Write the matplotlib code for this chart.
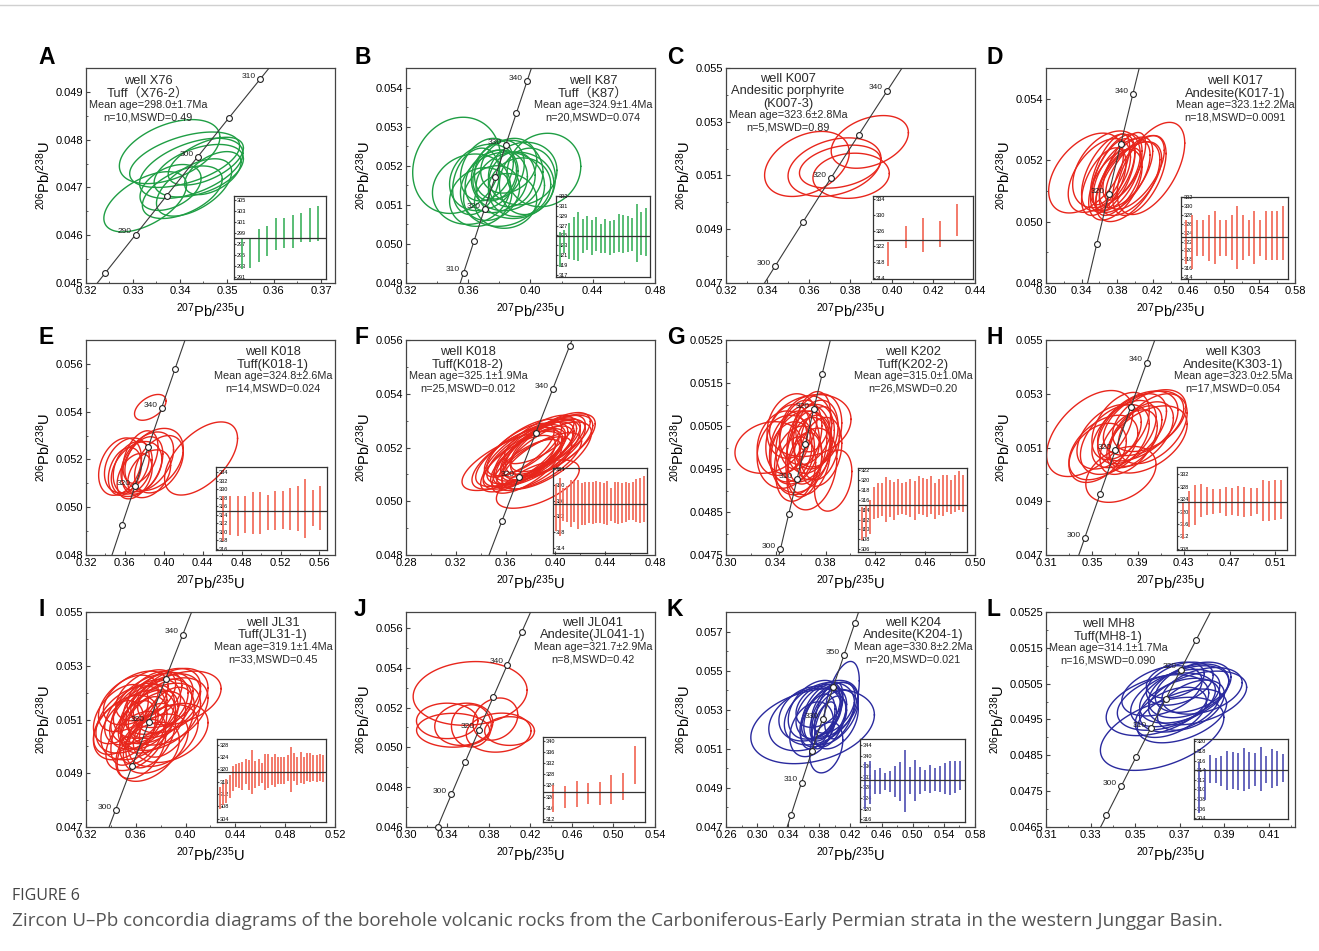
import numpy as np
import matplotlib
matplotlib.use('Agg')
import matplotlib.pyplot as plt
from matplotlib.ticker import AutoMinorLocator
from matplotlib.lines import Line2D

plt.rcParams['font.family'] = ['Liberation Sans', 'Noto Sans CJK SC']
plt.rcParams['mathtext.default'] = 'regular'

# decay constants (per year) for the concordia curve
LAMBDA_238 = 1.55125e-10
LAMBDA_235 = 9.8485e-10

letters = ['A', 'B', 'C', 'D', 'E', 'F', 'G', 'H', 'I', 'J', 'K', 'L']

texts = [
    ['well X76', 'Tuff（X76-2）', 'Mean age=298.0±1.7Ma', 'n=10,MSWD=0.49'],
    ['well K87', 'Tuff（K87）', 'Mean age=324.9±1.4Ma', 'n=20,MSWD=0.074'],
    ['well K007', 'Andesitic porphyrite', '(K007-3)', 'Mean age=323.6±2.8Ma', 'n=5,MSWD=0.89'],
    ['well K017', 'Andesite(K017-1)', 'Mean age=323.1±2.2Ma', 'n=18,MSWD=0.0091'],
    ['well K018', 'Tuff(K018-1)', 'Mean age=324.8±2.6Ma', 'n=14,MSWD=0.024'],
    ['well K018', 'Tuff(K018-2)', 'Mean age=325.1±1.9Ma', 'n=25,MSWD=0.012'],
    ['well K202', 'Tuff(K202-2)', 'Mean age=315.0±1.0Ma', 'n=26,MSWD=0.20'],
    ['well K303', 'Andesite(K303-1)', 'Mean age=323.0±2.5Ma', 'n=17,MSWD=0.054'],
    ['well JL31', 'Tuff(JL31-1)', 'Mean age=319.1±1.4Ma', 'n=33,MSWD=0.45'],
    ['well JL041', 'Andesite(JL041-1)', 'Mean age=321.7±2.9Ma', 'n=8,MSWD=0.42'],
    ['well K204', 'Andesite(K204-1)', 'Mean age=330.8±2.2Ma', 'n=20,MSWD=0.021'],
    ['well MH8', 'Tuff(MH8-1)', 'Mean age=314.1±1.7Ma', 'n=16,MSWD=0.090'],
]

# axis ranges and tick spacing (207Pb/235U, 206Pb/238U)
xlims = [(0.32, 0.373), (0.32, 0.48), (0.32, 0.44), (0.30, 0.58), (0.32, 0.576), (0.28, 0.48),
         (0.30, 0.50), (0.31, 0.527), (0.32, 0.52), (0.30, 0.54), (0.26, 0.58), (0.31, 0.4217)]
xsteps = [0.01, 0.04, 0.02, 0.04, 0.04, 0.04, 0.04, 0.04, 0.04, 0.04, 0.04, 0.02]
xlast = [0.37, 0.48, 0.44, 0.58, 0.56, 0.48, 0.50, 0.51, 0.52, 0.54, 0.58, 0.41]
ylims = [(0.045, 0.0495), (0.049, 0.0545), (0.047, 0.055), (0.048, 0.055), (0.048, 0.057), (0.048, 0.056),
         (0.0475, 0.0525), (0.047, 0.055), (0.047, 0.055), (0.046, 0.0568), (0.047, 0.058), (0.0465, 0.0525)]
ysteps = [0.001, 0.001, 0.002, 0.002, 0.002, 0.002, 0.001, 0.002, 0.002, 0.002, 0.002, 0.001]
ylast = [0.049, 0.054, 0.055, 0.054, 0.056, 0.056, 0.0525, 0.055, 0.055, 0.056, 0.057, 0.0525]

# concordia age marks (Ma) and which of them are labelled
age_marks = [[285, 290, 295, 300, 305, 310], [310, 315, 320, 325, 330, 335, 340],
             [300, 310, 320, 330, 340], [310, 320, 330, 340], [310, 320, 330, 340, 350],
             [310, 320, 330, 340, 350], [300, 305, 310, 315, 320, 325], [300, 310, 320, 330, 340],
             [300, 310, 320, 330, 340], [290, 300, 310, 320, 330, 340, 350],
             [300, 310, 320, 330, 340, 350, 360], [295, 300, 305, 310, 315, 320, 325]]
age_labels = [[290, 300, 310], [310, 320, 330, 340], [300, 320, 340], [320, 340], [320, 340],
              [320, 340], [300, 310, 320], [300, 320, 340], [300, 320, 340], [300, 320, 340],
              [310, 330, 350], [300, 310, 320]]

# error ellipses: (x centre, y centre, x half-width, y half-width, correlation)
ell_A = [(0.3326, 0.04670, 0.0088, 0.00063, 0.55), (0.3378, 0.04775, 0.0107, 0.00067, 0.45),
         (0.3410, 0.04758, 0.0117, 0.00058, 0.50), (0.3424, 0.04740, 0.0110, 0.00063, 0.50),
         (0.3440, 0.04735, 0.0095, 0.00055, 0.45), (0.3455, 0.04755, 0.0080, 0.00050, 0.55),
         (0.3405, 0.04690, 0.0085, 0.00055, 0.50), (0.3380, 0.04700, 0.0065, 0.00048, 0.40),
         (0.3430, 0.04700, 0.0080, 0.00060, 0.55), (0.3470, 0.04730, 0.0060, 0.00045, 0.50)]
ell_B = [(0.3525, 0.05201, 0.0282, 0.00123, 0.15), (0.4086, 0.05189, 0.0237, 0.00094, 0.10),
         (0.3620, 0.05140, 0.0250, 0.00090, 0.10), (0.3700, 0.05170, 0.0220, 0.00085, 0.20),
         (0.3780, 0.05160, 0.0200, 0.00080, 0.15), (0.3850, 0.05175, 0.0230, 0.00090, 0.10),
         (0.3900, 0.05150, 0.0250, 0.00085, 0.05), (0.3800, 0.05190, 0.0160, 0.00075, 0.20),
         (0.3750, 0.05130, 0.0180, 0.00070, 0.20), (0.3950, 0.05180, 0.0220, 0.00080, 0.10),
         (0.3680, 0.05120, 0.0200, 0.00075, 0.15), (0.3820, 0.05140, 0.0270, 0.00095, 0.10),
         (0.3860, 0.05200, 0.0180, 0.00070, 0.20), (0.3720, 0.05190, 0.0170, 0.00080, 0.25),
         (0.3930, 0.05145, 0.0200, 0.00075, 0.10), (0.3770, 0.05175, 0.0140, 0.00065, 0.20),
         (0.3880, 0.05165, 0.0150, 0.00070, 0.15), (0.3650, 0.05160, 0.0150, 0.00085, 0.25),
         (0.3980, 0.05160, 0.0180, 0.00085, 0.10), (0.3840, 0.05110, 0.0200, 0.00070, 0.05)]
ell_C = [(0.3590, 0.05143, 0.0204, 0.00121, 0.35), (0.3723, 0.05131, 0.0224, 0.00109, 0.30),
         (0.3750, 0.05133, 0.0196, 0.00080, 0.30), (0.3893, 0.05225, 0.0186, 0.00098, 0.35),
         (0.3803, 0.05099, 0.0184, 0.00084, 0.10)]
ell_D = [(0.3450, 0.05158, 0.0420, 0.00130, 0.45), (0.4180, 0.05173, 0.0380, 0.00150, 0.55),
         (0.3600, 0.05150, 0.0350, 0.00120, 0.50), (0.3700, 0.05160, 0.0300, 0.00125, 0.55),
         (0.3750, 0.05150, 0.0250, 0.00120, 0.60), (0.3800, 0.05160, 0.0280, 0.00125, 0.55),
         (0.3850, 0.05150, 0.0320, 0.00120, 0.55), (0.3900, 0.05160, 0.0300, 0.00115, 0.60),
         (0.3950, 0.05140, 0.0350, 0.00120, 0.55), (0.4000, 0.05160, 0.0330, 0.00120, 0.60),
         (0.3650, 0.05130, 0.0250, 0.00110, 0.55), (0.3720, 0.05170, 0.0220, 0.00115, 0.65),
         (0.3820, 0.05130, 0.0260, 0.00110, 0.60), (0.3880, 0.05180, 0.0240, 0.00110, 0.65),
         (0.3780, 0.05120, 0.0300, 0.00115, 0.50), (0.3920, 0.05130, 0.0360, 0.00130, 0.55),
         (0.3680, 0.05170, 0.0380, 0.00125, 0.40), (0.4050, 0.05150, 0.0300, 0.00130, 0.55)]
ell_E = [(0.3861, 0.05418, 0.0162, 0.00054, 0.50), (0.4383, 0.05204, 0.0375, 0.00153, 0.55),
         (0.3550, 0.05170, 0.0220, 0.00120, 0.30), (0.3620, 0.05175, 0.0230, 0.00115, 0.30),
         (0.3680, 0.05165, 0.0200, 0.00110, 0.30), (0.3720, 0.05160, 0.0260, 0.00115, 0.35),
         (0.3780, 0.05175, 0.0210, 0.00120, 0.40), (0.3830, 0.05190, 0.0270, 0.00125, 0.40),
         (0.3900, 0.05200, 0.0300, 0.00130, 0.35), (0.3950, 0.05180, 0.0250, 0.00120, 0.40),
         (0.3700, 0.05130, 0.0180, 0.00095, 0.35), (0.3600, 0.05150, 0.0170, 0.00100, 0.30),
         (0.3850, 0.05140, 0.0220, 0.00100, 0.35), (0.3760, 0.05210, 0.0180, 0.00110, 0.40)]
ell_F = [(0.3859, 0.05064, 0.0333, 0.00090, 0.60), (0.3650, 0.05150, 0.0400, 0.00110, 0.70),
         (0.3680, 0.05160, 0.0350, 0.00115, 0.70), (0.3700, 0.05140, 0.0300, 0.00105, 0.70),
         (0.3720, 0.05170, 0.0360, 0.00115, 0.70), (0.3740, 0.05155, 0.0320, 0.00110, 0.70),
         (0.3760, 0.05175, 0.0340, 0.00120, 0.70), (0.3780, 0.05160, 0.0300, 0.00110, 0.72),
         (0.3800, 0.05180, 0.0350, 0.00115, 0.70), (0.3820, 0.05170, 0.0320, 0.00110, 0.72),
         (0.3840, 0.05190, 0.0330, 0.00115, 0.70), (0.3860, 0.05180, 0.0340, 0.00120, 0.70),
         (0.3880, 0.05200, 0.0320, 0.00110, 0.72), (0.3900, 0.05190, 0.0340, 0.00115, 0.70),
         (0.3920, 0.05210, 0.0320, 0.00110, 0.70), (0.3940, 0.05200, 0.0360, 0.00120, 0.68),
         (0.3960, 0.05220, 0.0320, 0.00110, 0.70), (0.3980, 0.05210, 0.0340, 0.00115, 0.68),
         (0.3770, 0.05130, 0.0280, 0.00100, 0.70), (0.3830, 0.05140, 0.0300, 0.00100, 0.70),
         (0.3890, 0.05150, 0.0320, 0.00105, 0.70), (0.3710, 0.05190, 0.0280, 0.00100, 0.70),
         (0.3930, 0.05170, 0.0360, 0.00125, 0.68), (0.3750, 0.05200, 0.0300, 0.00105, 0.70),
         (0.3870, 0.05230, 0.0280, 0.00090, 0.70)]
ell_G = [(0.3339, 0.05000, 0.0267, 0.00060, 0.20), (0.3861, 0.04923, 0.0150, 0.00071, 0.30),
         (0.3677, 0.05051, 0.0327, 0.00072, 0.20), (0.3450, 0.05010, 0.0200, 0.00075, 0.20),
         (0.3500, 0.05020, 0.0180, 0.00080, 0.25), (0.3550, 0.05000, 0.0200, 0.00085, 0.20),
         (0.3600, 0.05030, 0.0170, 0.00080, 0.25), (0.3620, 0.05010, 0.0220, 0.00090, 0.20),
         (0.3650, 0.05000, 0.0160, 0.00085, 0.25), (0.3680, 0.05020, 0.0190, 0.00080, 0.25),
         (0.3700, 0.05000, 0.0150, 0.00075, 0.20), (0.3720, 0.05030, 0.0180, 0.00080, 0.25),
         (0.3750, 0.05010, 0.0160, 0.00085, 0.20), (0.3580, 0.04970, 0.0190, 0.00080, 0.20),
         (0.3630, 0.04960, 0.0140, 0.00075, 0.25), (0.3530, 0.05050, 0.0200, 0.00075, 0.20),
         (0.3700, 0.05060, 0.0140, 0.00070, 0.25), (0.3480, 0.04990, 0.0230, 0.00085, 0.15),
         (0.3660, 0.04980, 0.0180, 0.00090, 0.20), (0.3760, 0.04990, 0.0170, 0.00080, 0.25),
         (0.3600, 0.04990, 0.0240, 0.00095, 0.20), (0.3560, 0.04950, 0.0160, 0.00075, 0.20),
         (0.3690, 0.04950, 0.0200, 0.00095, 0.25), (0.3730, 0.05040, 0.0200, 0.00085, 0.20),
         (0.3520, 0.04990, 0.0170, 0.00070, 0.20), (0.3640, 0.05040, 0.0210, 0.00080, 0.20)]
ell_H = [(0.3481, 0.05152, 0.0376, 0.00160, 0.50), (0.3753, 0.05000, 0.0306, 0.00104, 0.35),
         (0.3600, 0.05100, 0.0300, 0.00120, 0.45), (0.3700, 0.05130, 0.0300, 0.00130, 0.45),
         (0.3780, 0.05150, 0.0280, 0.00125, 0.50), (0.3850, 0.05170, 0.0300, 0.00130, 0.50),
         (0.3900, 0.05180, 0.0350, 0.00130, 0.45), (0.3950, 0.05190, 0.0350, 0.00120, 0.45),
         (0.4000, 0.05200, 0.0320, 0.00115, 0.45), (0.3820, 0.05120, 0.0250, 0.00120, 0.50),
         (0.3880, 0.05140, 0.0230, 0.00115, 0.55), (0.3930, 0.05150, 0.0280, 0.00120, 0.50),
         (0.3750, 0.05180, 0.0250, 0.00125, 0.45), (0.3650, 0.05140, 0.0280, 0.00120, 0.45),
         (0.4030, 0.05170, 0.0300, 0.00130, 0.45), (0.3550, 0.05080, 0.0250, 0.00110, 0.40),
         (0.3980, 0.05130, 0.0350, 0.00125, 0.45)]
ell_I = [(0.3520, 0.05070, 0.0260, 0.00120, 0.40), (0.3560, 0.05100, 0.0280, 0.00125, 0.40),
         (0.3600, 0.05120, 0.0250, 0.00115, 0.45), (0.3620, 0.05080, 0.0300, 0.00130, 0.40),
         (0.3650, 0.05110, 0.0260, 0.00120, 0.45), (0.3680, 0.05130, 0.0280, 0.00120, 0.45),
         (0.3700, 0.05100, 0.0240, 0.00110, 0.45), (0.3720, 0.05150, 0.0300, 0.00120, 0.40),
         (0.3740, 0.05090, 0.0260, 0.00115, 0.45), (0.3760, 0.05130, 0.0290, 0.00120, 0.45),
         (0.3780, 0.05160, 0.0280, 0.00115, 0.40), (0.3800, 0.05110, 0.0320, 0.00125, 0.40),
         (0.3820, 0.05150, 0.0300, 0.00120, 0.45), (0.3840, 0.05180, 0.0280, 0.00110, 0.40),
         (0.3860, 0.05130, 0.0320, 0.00125, 0.40), (0.3880, 0.05170, 0.0300, 0.00120, 0.40),
         (0.3950, 0.05180, 0.0335, 0.00100, 0.35), (0.3600, 0.05020, 0.0240, 0.00110, 0.45),
         (0.3640, 0.04990, 0.0200, 0.00110, 0.45), (0.3700, 0.04980, 0.0250, 0.00110, 0.40),
         (0.3760, 0.05010, 0.0260, 0.00110, 0.40), (0.3820, 0.05040, 0.0280, 0.00115, 0.40),
         (0.3880, 0.05050, 0.0300, 0.00110, 0.35), (0.3480, 0.05120, 0.0220, 0.00110, 0.45),
         (0.3540, 0.05160, 0.0240, 0.00105, 0.45), (0.3600, 0.05180, 0.0260, 0.00100, 0.45),
         (0.3680, 0.05190, 0.0240, 0.00095, 0.45), (0.3750, 0.05190, 0.0220, 0.00090, 0.40),
         (0.3580, 0.05050, 0.0180, 0.00120, 0.50), (0.3660, 0.05060, 0.0190, 0.00125, 0.50),
         (0.3720, 0.05040, 0.0200, 0.00120, 0.45), (0.3850, 0.05090, 0.0220, 0.00130, 0.45),
         (0.3460, 0.05070, 0.0200, 0.00100, 0.40)]
ell_J = [(0.3618, 0.05271, 0.0549, 0.00160, 0.10), (0.3397, 0.05133, 0.0296, 0.00089, 0.00),
         (0.3454, 0.05086, 0.0352, 0.00085, 0.00), (0.3557, 0.05116, 0.0280, 0.00106, 0.10),
         (0.3630, 0.05108, 0.0192, 0.00106, 0.00), (0.3893, 0.05074, 0.0312, 0.00098, 0.10),
         (0.3861, 0.05142, 0.0216, 0.00106, 0.20), (0.3998, 0.05082, 0.0240, 0.00072, 0.00)]
ell_K = [(0.3713, 0.05216, 0.0794, 0.00192, 0.30), (0.4089, 0.05349, 0.0224, 0.00198, 0.50),
         (0.3888, 0.05107, 0.0213, 0.00130, 0.30), (0.3650, 0.05250, 0.0500, 0.00160, 0.30),
         (0.3800, 0.05280, 0.0450, 0.00160, 0.35), (0.3900, 0.05300, 0.0400, 0.00150, 0.40),
         (0.3950, 0.05280, 0.0350, 0.00160, 0.40), (0.3850, 0.05260, 0.0300, 0.00150, 0.45),
         (0.3820, 0.05290, 0.0250, 0.00140, 0.50), (0.3880, 0.05270, 0.0200, 0.00130, 0.55),
         (0.3920, 0.05300, 0.0180, 0.00140, 0.55), (0.3780, 0.05240, 0.0220, 0.00140, 0.45),
         (0.3980, 0.05310, 0.0280, 0.00130, 0.45), (0.3750, 0.05300, 0.0350, 0.00150, 0.35),
         (0.3700, 0.05200, 0.0280, 0.00140, 0.30), (0.4000, 0.05250, 0.0300, 0.00150, 0.35),
         (0.3860, 0.05220, 0.0160, 0.00120, 0.55), (0.3940, 0.05240, 0.0200, 0.00130, 0.50),
         (0.3680, 0.05280, 0.0400, 0.00140, 0.25), (0.3800, 0.05320, 0.0300, 0.00110, 0.35)]
ell_L = [(0.3621, 0.04910, 0.0277, 0.00102, 0.45), (0.3600, 0.04990, 0.0230, 0.00085, 0.40),
         (0.3640, 0.05000, 0.0220, 0.00080, 0.40), (0.3680, 0.05010, 0.0200, 0.00080, 0.45),
         (0.3700, 0.04990, 0.0180, 0.00075, 0.40), (0.3720, 0.05020, 0.0200, 0.00080, 0.45),
         (0.3740, 0.05030, 0.0180, 0.00075, 0.40), (0.3760, 0.05040, 0.0170, 0.00070, 0.40),
         (0.3660, 0.04970, 0.0160, 0.00070, 0.45), (0.3700, 0.05050, 0.0150, 0.00060, 0.40),
         (0.3780, 0.05010, 0.0220, 0.00075, 0.40), (0.3800, 0.05030, 0.0180, 0.00065, 0.35),
         (0.3620, 0.05030, 0.0180, 0.00070, 0.40), (0.3710, 0.04960, 0.0200, 0.00075, 0.45),
         (0.3750, 0.04990, 0.0150, 0.00070, 0.45), (0.3680, 0.05060, 0.0130, 0.00050, 0.35)]
ellipses = [ell_A, ell_B, ell_C, ell_D, ell_E, ell_F, ell_G, ell_H, ell_I, ell_J, ell_K, ell_L]

# weighted-mean insets: age error bars (low, high) in Ma
wm_A = [(292.4, 297.9), (292.6, 297.9), (293.7, 299.7), (294.7, 300.3), (295.8, 301.7),
        (296.3, 301.6), (296.2, 302.3), (297.4, 302.6), (297.3, 303.5), (297.5, 303.9)]
wm_B = [(318.6, 325.8), (321.5, 326.1), (320.3, 327.5), (320.1, 328.7), (319.8, 329.8),
        (321.5, 328.3), (322.0, 329.0), (321.1, 328.2), (321.8, 328.7), (321.5, 327.3),
        (321.5, 328.4), (321.1, 328.0), (321.5, 328.2), (321.7, 329.4), (321.5, 329.2),
        (321.6, 329.0), (321.8, 328.6), (319.6, 331.4), (321.1, 329.8), (320.8, 330.5)]
wm_C = [(317.1, 323.0), (321.5, 327.2), (320.5, 329.1), (321.8, 328.3), (324.7, 332.8)]
wm_D = [(317.0, 326.9), (315.8, 327.9), (318.8, 326.9), (318.8, 326.9), (317.7, 327.9),
        (317.0, 328.9), (318.8, 326.9), (318.8, 326.9), (317.8, 327.9), (315.8, 329.9),
        (317.8, 327.9), (318.8, 326.9), (317.0, 328.9), (318.8, 326.9), (317.8, 328.9),
        (317.8, 328.9), (317.8, 328.9), (317.8, 329.9)]
wm_E = [(317.9, 328.5), (319.2, 328.3), (319.0, 328.5), (319.8, 328.5), (319.4, 329.3),
        (319.5, 329.3), (320.3, 328.7), (320.3, 329.5), (320.7, 329.5), (320.3, 330.3),
        (320.1, 330.8), (318.5, 332.4), (321.3, 329.9), (320.3, 330.8)]
wm_F = [(318.4, 330.2), (316.9, 331.7), (320.7, 329.1), (320.5, 329.7), (319.3, 331.2),
        (320.5, 331.0), (318.9, 331.2), (319.7, 330.5), (319.9, 330.8), (320.4, 330.6),
        (320.1, 330.8), (320.4, 330.9), (320.4, 330.8), (320.1, 330.5), (319.9, 331.0),
        (320.7, 329.1), (320.4, 330.8), (320.1, 330.8), (320.4, 330.4), (320.5, 330.6),
        (321.0, 330.4), (321.0, 330.8), (320.5, 331.4), (320.4, 331.7), (320.5, 332.2)]
wm_G = [(307.8, 314.6), (308.4, 314.9), (309.1, 316.0), (312.2, 318.7), (312.3, 319.4),
        (312.7, 319.4), (311.5, 320.6), (312.5, 320.1), (311.9, 319.7), (312.9, 320.2),
        (313.2, 319.5), (312.9, 319.7), (312.5, 320.2), (311.9, 319.9), (313.2, 320.9),
        (312.9, 320.4), (312.5, 320.2), (313.2, 320.8), (312.2, 319.4), (312.9, 320.2),
        (312.7, 321.1), (313.6, 321.1), (313.2, 320.1), (313.6, 321.1), (313.9, 321.8),
        (313.6, 321.1)]
wm_H = [(311.3, 323.1), (315.0, 326.6), (315.8, 328.7), (318.3, 329.0), (318.8, 327.9),
        (319.2, 327.4), (319.5, 327.2), (318.7, 327.9), (318.8, 327.6), (318.7, 328.2),
        (318.4, 328.1), (318.7, 327.7), (319.1, 327.7), (317.0, 330.1), (317.0, 329.9),
        (317.3, 330.3), (317.5, 330.3)]
wm_I = [(307.3, 314.4), (308.4, 315.3), (309.2, 316.8), (310.7, 318.2), (313.1, 321.1),
        (314.2, 321.8), (313.9, 322.2), (313.4, 322.5), (315.3, 323.3), (313.4, 323.1),
        (312.0, 326.4), (313.9, 322.9), (314.5, 323.3), (315.6, 322.2), (313.4, 325.1),
        (314.0, 325.1), (314.8, 324.2), (314.2, 325.1), (315.3, 324.2), (315.3, 324.0),
        (315.3, 324.0), (316.2, 324.6), (312.7, 327.4), (316.2, 325.3), (314.8, 324.2),
        (315.6, 325.8), (315.3, 324.2), (316.2, 325.3), (315.9, 325.5), (316.4, 324.7),
        (315.9, 324.7), (316.4, 325.1), (315.9, 324.7)]
wm_J = [(314.5, 324.1), (316.1, 323.7), (316.3, 325.5), (317.5, 324.9), (316.9, 325.2),
        (317.5, 327.7), (318.7, 328.3), (324.7, 338.1)]
wm_K = [(319.9, 337.7), (321.8, 338.1), (325.4, 334.5), (325.4, 335.1), (326.9, 333.5),
        (326.3, 334.3), (324.4, 336.0), (322.8, 337.7), (318.7, 342.1), (325.4, 335.8),
        (322.8, 338.3), (325.4, 335.8), (326.5, 334.5), (325.9, 336.4), (326.8, 335.4),
        (326.4, 336.0), (325.4, 337.0), (325.0, 338.1), (326.0, 338.1), (327.1, 338.1)]
wm_L = [(305.1, 315.8), (307.7, 314.3), (311.3, 317.2), (311.3, 316.5), (310.6, 317.0),
        (309.8, 318.1), (310.1, 317.9), (309.8, 317.6), (309.6, 318.6), (310.1, 317.9),
        (310.6, 317.6), (309.6, 318.8), (311.4, 317.0), (310.3, 318.5), (310.6, 318.1),
        (311.5, 317.4)]
wm_bars = [wm_A, wm_B, wm_C, wm_D, wm_E, wm_F, wm_G, wm_H, wm_I, wm_J, wm_K, wm_L]
mean_ages = [298.0, 324.9, 323.6, 323.1, 324.8, 325.1, 315.0, 323.0, 319.1, 321.7, 330.8, 314.1]
inset_ylims = [(290.6, 305.7), (316.6, 333.0), (313.7, 334.8), (313.6, 332.0), (315.7, 335.2),
               (312.7, 334.25), (305.4, 322.5), (307.6, 334.4), (302.9, 329.9), (310.9, 341.4),
               (314.9, 346.2), (303.8, 320.5)]
inset_tick_start = [291, 317, 314, 314, 316, 314, 306, 308, 304, 312, 316, 304]
inset_tick_step = [2, 2, 4, 2, 2, 4, 2, 4, 4, 4, 4, 2]

# colours: ellipse colour, inset bar colour
ell_colors = ['#1f9e44'] * 2 + ['#e8261c'] * 8 + ['#2a2a9e'] * 2
bar_colors = ['#4cb86a'] * 2 + ['#f2705f'] * 8 + ['#5a5ab8'] * 2

# ---------------- layout (pixels) ----------------
W, H = 1319, 951
col_left = [86, 406, 726, 1046]
row_top = [68, 340, 612]
ax_w, ax_h = 249, 215
letter_x = [38, 354, 667, 987]
letter_y = [57, 338, 610]
inset_rects = [(0.594, 0.019, 0.370, 0.386), (0.602, 0.028, 0.378, 0.377), (0.590, 0.019, 0.402, 0.386),
               (0.542, 0.019, 0.430, 0.381), (0.522, 0.023, 0.446, 0.386), (0.590, 0.009, 0.378, 0.396),
               (0.530, 0.014, 0.438, 0.391), (0.526, 0.023, 0.442, 0.386), (0.526, 0.023, 0.438, 0.386),
               (0.550, 0.023, 0.410, 0.396), (0.538, 0.023, 0.422, 0.386), (0.594, 0.037, 0.378, 0.372)]
text_pos = [(0.249, 0.967), (0.751, 0.967), (0.249, 0.977), (0.759, 0.967), (0.751, 0.972), (0.249, 0.972),
            (0.751, 0.972), (0.751, 0.972), (0.751, 0.977), (0.751, 0.977), (0.751, 0.977), (0.249, 0.972)]

fig = plt.figure(figsize=(W / 100, H / 100), dpi=100)

ages_all = np.linspace(250, 400, 400) * 1e6
conc_x = np.exp(LAMBDA_235 * ages_all) - 1
conc_y = np.exp(LAMBDA_238 * ages_all) - 1
theta = np.linspace(0, 2 * np.pi, 120)

for k in range(12):
    r, c = divmod(k, 4)
    left = col_left[c] / W
    bottom = 1 - (row_top[r] + ax_h) / H
    ax = fig.add_axes([left, bottom, ax_w / W, ax_h / H])

    # error ellipses
    for cx, cy, sx, sy, rho in ellipses[k]:
        ex = cx + sx * np.cos(theta)
        ey = cy + sy * (rho * np.cos(theta) + np.sqrt(1 - rho ** 2) * np.sin(theta))
        ax.plot(ex, ey, color=ell_colors[k], lw=1.0, zorder=2)

    # concordia curve with age marks
    ax.plot(conc_x, conc_y, color='#3a3a3a', lw=0.8, zorder=3)
    t = np.array(age_marks[k]) * 1e6
    ax.plot(np.exp(LAMBDA_235 * t) - 1, np.exp(LAMBDA_238 * t) - 1, 'o', ms=4.2,
            mfc='white', mec='#222222', mew=0.8, zorder=4, clip_on=False)
    for a in age_labels[k]:
        ta = a * 1e6
        ax.annotate(str(a), (np.exp(LAMBDA_235 * ta) - 1, np.exp(LAMBDA_238 * ta) - 1),
                    xytext=(-3, 2), textcoords='offset points', ha='right', va='center',
                    fontsize=6, color='#222222', zorder=5)

    ax.set_xlim(*xlims[k])
    ax.set_ylim(*ylims[k])
    ax.set_xticks(np.arange(xlims[k][0], xlast[k] + 1e-6, xsteps[k]))
    ax.set_yticks(np.arange(ylims[k][0], ylast[k] + 1e-7, ysteps[k]))
    ax.xaxis.set_major_formatter(plt.FormatStrFormatter('%.2f'))
    ax.yaxis.set_major_formatter(plt.FormatStrFormatter('%.4f' if k in (6, 11) else '%.3f'))
    ax.xaxis.set_minor_locator(AutoMinorLocator(2))
    ax.yaxis.set_minor_locator(AutoMinorLocator(2))
    ax.tick_params(which='both', direction='in', labelsize=8, pad=2, color='#444444')
    ax.tick_params(which='major', length=3)
    ax.tick_params(which='minor', length=1.5)
    for s in ax.spines.values():
        s.set_color('#444444')
        s.set_linewidth(0.9)
    ax.set_xlabel(r'$^{207}$Pb/$^{235}$U', fontsize=10.5, labelpad=4)
    ax.set_ylabel(r'$^{206}$Pb/$^{238}$U', fontsize=10.5, labelpad=2)

    # sample info text
    tx, ty = text_pos[k]
    lines = texts[k]
    for i, line in enumerate(lines):
        big = i < len(lines) - 2
        ax.annotate(line, (tx, ty), xycoords='axes fraction', xytext=(0, -9 * i),
                    textcoords='offset points', ha='center', va='top',
                    fontsize=9.3 if big else 7.8, color='#2a2a2a', zorder=6)

    # panel letter
    fig.text(letter_x[c] / W, 1 - letter_y[r] / H, letters[k],
             fontsize=16.5, fontweight='bold', ha='left', va='center')

    # weighted mean inset
    ins = ax.inset_axes(inset_rects[k])
    ins.set_facecolor('none')
    bars = wm_bars[k]
    idx = np.arange(1, len(bars) + 1)
    ins.vlines(idx, [b[0] for b in bars], [b[1] for b in bars], color=bar_colors[k], lw=1.3)
    ins.axhline(mean_ages[k], color='#333333', lw=0.9)
    ins.set_xlim(0.1, len(bars) + 0.9)
    ins.set_ylim(*inset_ylims[k])
    ins.set_xticks([])
    ins.set_yticks(np.arange(inset_tick_start[k], inset_ylims[k][1] + 0.01, inset_tick_step[k]))
    ins.tick_params(axis='y', direction='in', length=1.5, labelsize=4, pad=-2, color='#444444')
    plt.setp(ins.get_yticklabels(), ha='left')
    for s in ins.spines.values():
        s.set_color('#333333')
        s.set_linewidth(0.9)

# top rule and caption
fig.add_artist(Line2D([0, 1], [1 - 5 / H, 1 - 5 / H], color='#d0d0d0', lw=1))
fig.text(12 / W, 1 - 896 / H, 'FIGURE 6', fontsize=11.5, color='#444444', family='Open Sans',
         ha='left', va='center')
fig.text(12 / W, 1 - 921 / H,
         'Zircon U\u2013Pb concordia diagrams of the borehole volcanic rocks from the '
         'Carboniferous-Early Permian strata in the western Junggar Basin.',
         fontsize=13.6, color='#555555', family='Open Sans', ha='left', va='center')

fig.savefig('out.png', dpi=100)
